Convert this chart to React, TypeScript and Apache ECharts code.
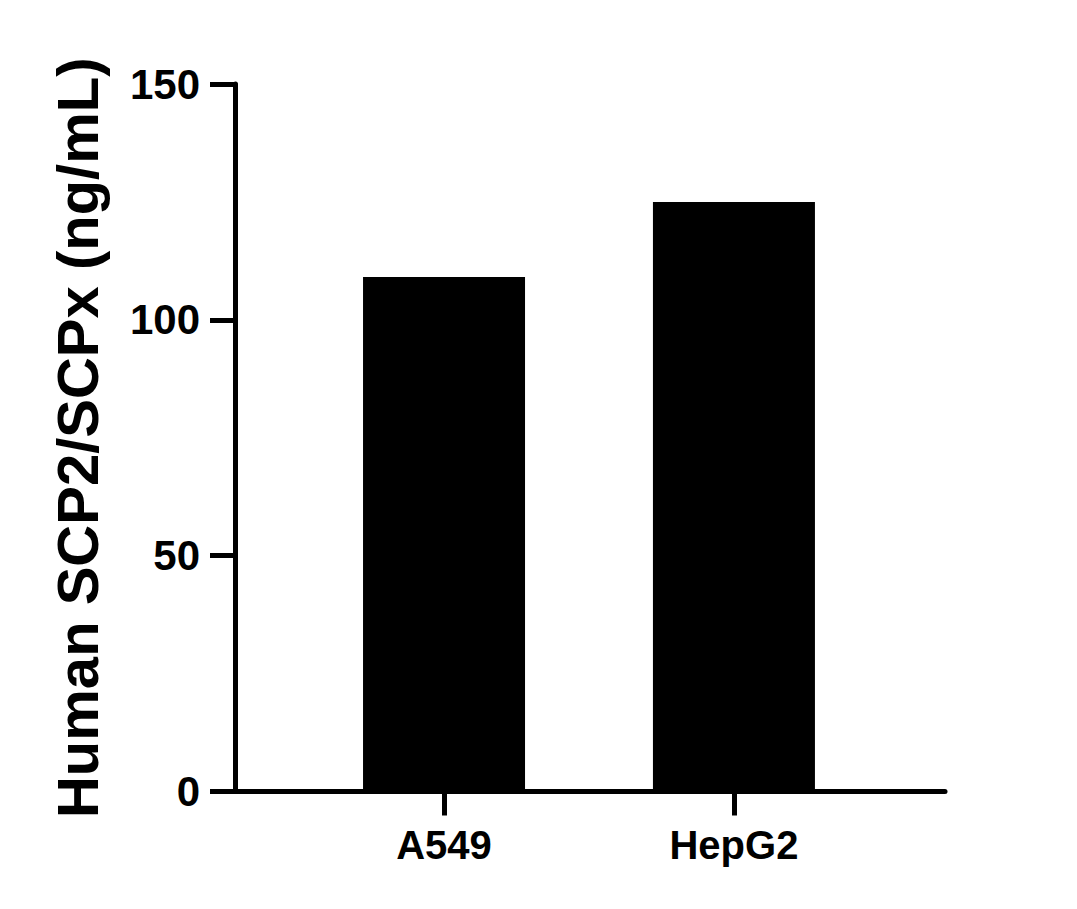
import React, { useEffect, useRef } from "react";
import * as echarts from "echarts";

// bar positions on the x value axis (1, 2) carry the category names
const categories = ["A549", "HepG2"];
const categoryPositions = [1, 2];
const values = [109.1, 125.0];
const yTicks = [0, 50, 100, 150];

const FONT = "'Liberation Sans', Arial, sans-serif";

const App = () => {
    const chartRef = useRef(null);

    useEffect(() => {
        if (!chartRef.current) return;
        const chart = echarts.init(chartRef.current, null, { renderer: "svg" });

        const options = {
            animation: false,
            backgroundColor: "#ffffff",
            grid: { left: 235, right: 132, top: 84, bottom: 117.5, containLabel: false },
            xAxis: {
                type: "value",
                min: 0.279,
                max: 2.728,
                splitLine: { show: false },
                axisLine: { show: true, lineStyle: { color: "#000", width: 5 } },
                axisTick: {
                    show: true,
                    customValues: categoryPositions,
                    length: 24,
                    lineStyle: { color: "#000", width: 5 }
                },
                axisLabel: {
                    customValues: categoryPositions,
                    formatter: (v) => categories[categoryPositions.indexOf(Math.round(v))] || "",
                    color: "#000",
                    fontFamily: FONT,
                    fontWeight: "bold",
                    fontSize: 40,
                    margin: 33
                }
            },
            yAxis: {
                type: "value",
                min: yTicks[0],
                max: yTicks[yTicks.length - 1],
                interval: 50,
                name: "Human SCP2/SCPx (ng/mL)",
                nameLocation: "middle",
                nameGap: 129,
                nameTextStyle: {
                    color: "#000",
                    fontFamily: FONT,
                    fontWeight: "bold",
                    fontSize: 58
                },
                splitLine: { show: false },
                axisLine: { show: true, lineStyle: { color: "#000", width: 5 } },
                axisTick: { show: true, length: 25, lineStyle: { color: "#000", width: 5 } },
                axisLabel: {
                    color: "#000",
                    fontFamily: FONT,
                    fontWeight: "bold",
                    fontSize: 42,
                    margin: 35
                }
            },
            series: [
                {
                    type: "bar",
                    data: categoryPositions.map((p, i) => [p, values[i]]),
                    barWidth: 162,
                    itemStyle: { color: "#000" }
                }
            ]
        };

        chart.setOption(options);
        return () => chart.dispose();
    }, []);

    return (
        <div
            ref={chartRef}
            style={{ position: "fixed", left: 0, top: 0, width: "1077px", height: "909px", background: "#fff" }}
        />
    );
};

export default App;
